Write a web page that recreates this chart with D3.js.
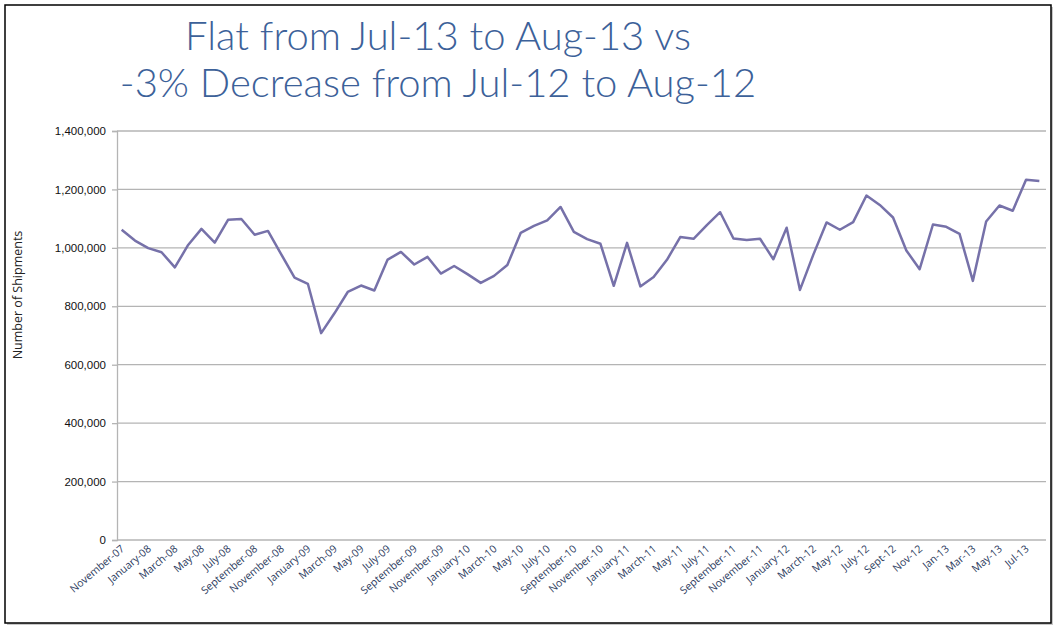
<!DOCTYPE html>
<html>
<head>
<meta charset="utf-8">
<script src="https://cdn.jsdelivr.net/npm/d3@7"></script>
<style>
  body { margin: 0; background: #fff; }
  svg { display: block; }
</style>
</head>
<body>
<div id="chart"></div>
<script>
// month categories (every other one is shown as a tick label)
const months = [
  "November-07", "December-07", "January-08", "February-08", "March-08", "April-08",
  "May-08", "June-08", "July-08", "August-08", "September-08", "October-08",
  "November-08", "December-08", "January-09", "February-09", "March-09", "April-09",
  "May-09", "June-09", "July-09", "August-09", "September-09", "October-09",
  "November-09", "December-09", "January-10", "February-10", "March-10", "April-10",
  "May-10", "June-10", "July-10", "August-10", "September-10", "October-10",
  "November-10", "December-10", "January-11", "February-11", "March-11", "April-11",
  "May-11", "June-11", "July-11", "August-11", "September-11", "October-11",
  "November-11", "December-11", "January-12", "February-12", "March-12", "April-12",
  "May-12", "June-12", "July-12", "Aug-12", "Sept-12", "Oct-12",
  "Nov-12", "Dec-12", "Jan-13", "Feb-13", "Mar-13", "Apr-13",
  "May-13", "Jun-13", "Jul-13", "Aug-13"
];

const shipments = [
  1062000, 1025000, 999000, 985000, 933000, 1010000, 1065000, 1018000, 1096000, 1099000,
  1045000, 1058000, 978000, 898000, 877000, 708000, 776000, 849000, 871000, 854000,
  960000, 986000, 943000, 969000, 912000, 938000, 910000, 880000, 904000, 941000,
  1051000, 1075000, 1094000, 1140000, 1055000, 1030000, 1014000, 870000, 1017000, 868000,
  900000, 959000, 1037000, 1031000, 1078000, 1122000, 1032000, 1027000, 1031000, 961000,
  1069000, 856000, 976000, 1087000, 1062000, 1088000, 1179000, 1147000, 1104000, 991000,
  927000, 1080000, 1072000, 1048000, 887000, 1090000, 1145000, 1127000, 1233000, 1229000
];

const yTicks = [0, 200000, 400000, 600000, 800000, 1000000, 1200000, 1400000];

const titleLines = ["Flat from Jul-13 to Aug-13 vs", "-3% Decrease from Jul-12 to Aug-12"];

const width = 1057, height = 629;

const svg = d3.select("#chart").append("svg")
  .attr("width", width)
  .attr("height", height);

// frame with a soft shadow
svg.append("rect")
  .attr("x", 7).attr("y", 7).attr("width", 1046).attr("height", 618)
  .attr("fill", "#c8c8c8");
svg.append("rect")
  .attr("x", 5).attr("y", 5).attr("width", 1046).attr("height", 618)
  .attr("fill", "#fff").attr("stroke", "#000").attr("stroke-width", 1.5);

const x = d3.scalePoint()
  .domain(months)
  .range([115, 1046])
  .padding(0.5);

const y = d3.scaleLinear()
  .domain([0, 1400000])
  .range([540, 131]);

// gridlines
svg.append("g")
  .selectAll("line")
  .data(yTicks.filter(d => d > 0))
  .enter().append("line")
  .attr("x1", 117).attr("x2", 1046)
  .attr("y1", d => y(d)).attr("y2", d => y(d))
  .attr("stroke", "#b4b4b4").attr("stroke-width", 1.3);

// y axis
const yAxis = svg.append("g")
  .attr("transform", "translate(117,0)")
  .call(d3.axisLeft(y).tickValues(yTicks).tickSize(5).tickPadding(6).tickFormat(d3.format(",")));
yAxis.select(".domain").attr("stroke", "#b4b4b4").attr("stroke-width", 1.3);
yAxis.selectAll(".tick line").attr("stroke", "#b4b4b4").attr("stroke-width", 1.3);
yAxis.selectAll("text")
  .attr("fill", "#111")
  .style("font-family", "'Liberation Sans', Arial, sans-serif")
  .style("font-size", "11.5px");

// x axis
const xAxis = svg.append("g")
  .attr("transform", "translate(0,540)")
  .call(d3.axisBottom(x).tickValues(months.filter((d, i) => i % 2 === 0)).tickSize(0).tickSizeOuter(0));
xAxis.select(".domain")
  .attr("d", "M117,0H1046")
  .attr("stroke", "#b4b4b4").attr("stroke-width", 1.3);
xAxis.selectAll("text")
  .attr("fill", "#2c3b5e")
  .attr("text-anchor", "end")
  .attr("dy", null)
  .attr("y", 0)
  .attr("transform", "translate(3,10) rotate(-40)")
  .style("font-family", "'Open Sans', sans-serif")
  .style("font-size", "10.5px");

// y axis title
svg.append("text")
  .attr("transform", "translate(22,295) rotate(-90)")
  .attr("text-anchor", "middle")
  .style("font-family", "'Open Sans', sans-serif")
  .style("font-size", "12.5px")
  .attr("fill", "#222")
  .text("Number of Shipments");

// line
const line = d3.line()
  .x((d, i) => x(months[i]))
  .y(d => y(d));

svg.append("path")
  .datum(shipments)
  .attr("d", line)
  .attr("fill", "none")
  .attr("stroke", "#7671a9")
  .attr("stroke-width", 2.5)
  .attr("stroke-linejoin", "round");

// title
svg.append("g")
  .selectAll("text")
  .data(titleLines)
  .enter().append("text")
  .attr("x", 438)
  .attr("y", (d, i) => 50 + i * 47)
  .attr("text-anchor", "middle")
  .attr("fill", "#3c6199")
  .style("font-family", "Lato, sans-serif")
  .style("font-weight", 300)
  .style("font-size", "40px")
  .text(d => d);
</script>
</body>
</html>
